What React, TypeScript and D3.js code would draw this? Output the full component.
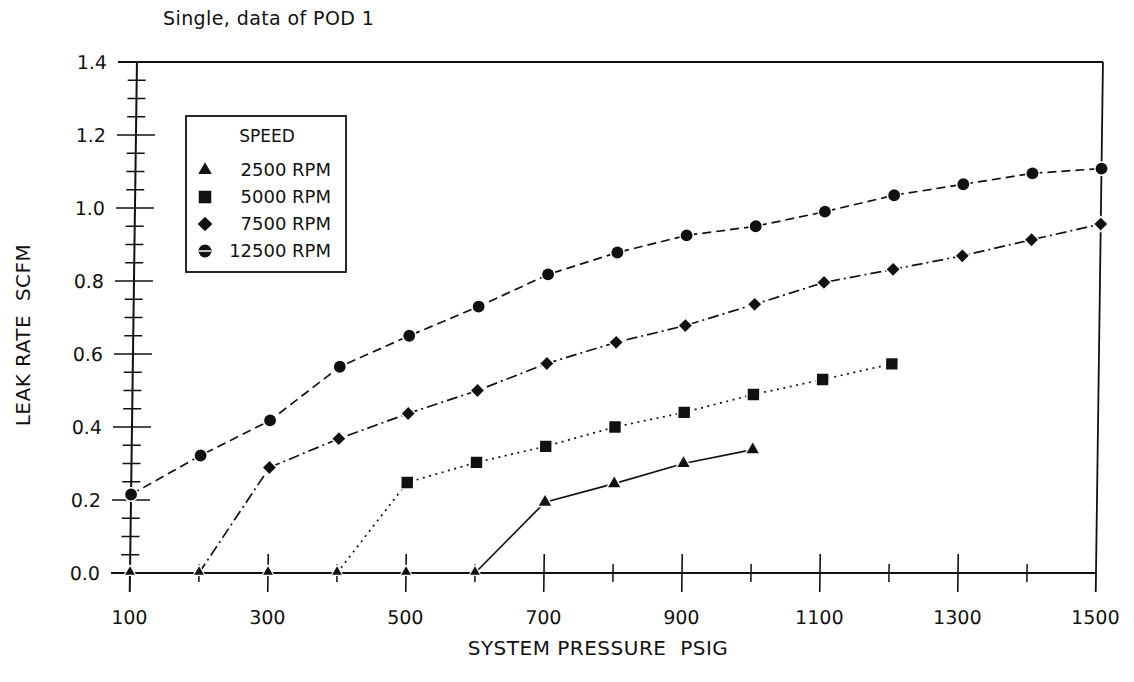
import { useEffect, useRef } from "react";
import * as d3 from "d3";

// pressures (psig) and leak rates (scfm)
const press2500 = [100, 200, 300, 400, 500, 600, 700, 800, 900, 1000];
const leak2500 = [0, 0, 0, 0, 0, 0, 0.194, 0.245, 0.3, 0.338];

const press5000 = [400, 500, 600, 700, 800, 900, 1000, 1100, 1200];
const leak5000 = [0, 0.248, 0.303, 0.347, 0.4, 0.44, 0.489, 0.53, 0.573];

const press7500 = [200, 300, 400, 500, 600, 700, 800, 900, 1000, 1100, 1200, 1300, 1400, 1500];
const leak7500 = [0, 0.289, 0.368, 0.437, 0.5, 0.574, 0.632, 0.678, 0.736, 0.796, 0.832, 0.869, 0.913, 0.956];

const press12500 = [100, 200, 300, 400, 500, 600, 700, 800, 900, 1000, 1100, 1200, 1300, 1400, 1500];
const leak12500 = [0.215, 0.322, 0.418, 0.565, 0.65, 0.73, 0.818, 0.878, 0.925, 0.95, 0.99, 1.035, 1.065, 1.095, 1.108];

const xTickLabels = [100, 300, 500, 700, 900, 1100, 1300, 1500];
const yTickLabels = [0, 0.2, 0.4, 0.6, 0.8, 1.0, 1.2, 1.4];
const legendLabels = ["2500 RPM", "5000 RPM", "7500 RPM", "12500 RPM"];

const INK = "#111";
const FONT = "'DejaVu Sans', sans-serif";

const App = () => {
  const svgRef = useRef<SVGSVGElement | null>(null);

  useEffect(() => {
    if (!svgRef.current) return;
    const svg = d3.select(svgRef.current);
    svg.selectAll("*").remove();

    const x = d3.scaleLinear().domain([100, 1500]).range([130, 1096]);
    const y = d3.scaleLinear().domain([0, 1.4]).range([573, 62]);

    // the scan leans a little to the right at the top
    const g = svg
      .append("g")
      .attr("transform", `translate(0,${y(0)}) skewX(-0.78) translate(0,${-y(0)})`);

    const series = [
      { p: press2500, v: leak2500, shape: "tri", dash: null },
      { p: press5000, v: leak5000, shape: "sq", dash: "2,4.5" },
      { p: press7500, v: leak7500, shape: "dia", dash: "11,4,2,4" },
      { p: press12500, v: leak12500, shape: "circ", dash: "9,5" },
    ];

    const symbolPath = (shape: string) => {
      if (shape === "tri") return d3.symbol(d3.symbolTriangle, 66)();
      if (shape === "sq") return d3.symbol(d3.symbolSquare, 130)();
      if (shape === "dia") return d3.symbol(d3.symbolSquare, 82)();
      return d3.symbol(d3.symbolCircle, 110)();
    };

    // frame
    g.append("line")
      .attr("x1", x(100) - 19).attr("x2", x(1500))
      .attr("y1", y(1.4)).attr("y2", y(1.4))
      .attr("stroke", INK).attr("stroke-width", 1.8);
    g.append("line")
      .attr("x1", x(1500)).attr("x2", x(1500))
      .attr("y1", y(1.4)).attr("y2", y(0) + 19)
      .attr("stroke", INK).attr("stroke-width", 1.8);
    g.append("line")
      .attr("x1", x(100) - 19).attr("x2", x(1500))
      .attr("y1", y(0)).attr("y2", y(0))
      .attr("stroke", INK).attr("stroke-width", 1.8);
    g.append("line")
      .attr("x1", x(100)).attr("x2", x(100))
      .attr("y1", y(1.4)).attr("y2", y(0) + 19)
      .attr("stroke", INK).attr("stroke-width", 2);

    // y ticks: minor every 0.05, major every 0.2
    const yMinor = d3.range(1, 28).map((i) => i * 0.05).filter((v) => Math.round(v * 100) % 20 !== 0);
    g.append("g")
      .selectAll("line")
      .data(yMinor)
      .join("line")
      .attr("x1", x(100) - 9).attr("x2", x(100) + 9)
      .attr("y1", (d) => y(d)).attr("y2", (d) => y(d))
      .attr("stroke", INK).attr("stroke-width", 1.5);
    g.append("g")
      .selectAll("line")
      .data(yTickLabels.slice(1, -1))
      .join("line")
      .attr("x1", x(100) - 19).attr("x2", x(100) + 19)
      .attr("y1", (d) => y(d)).attr("y2", (d) => y(d))
      .attr("stroke", INK).attr("stroke-width", 1.6);

    // x ticks
    const xMinor = d3.range(200, 1500, 200);
    g.append("g")
      .selectAll("line")
      .data(xMinor)
      .join("line")
      .attr("x1", (d) => x(d)).attr("x2", (d) => x(d))
      .attr("y1", y(0) - 9).attr("y2", y(0) + 9)
      .attr("stroke", INK).attr("stroke-width", 1.5);
    g.append("g")
      .selectAll("line")
      .data(xTickLabels.slice(1, -1))
      .join("line")
      .attr("x1", (d) => x(d)).attr("x2", (d) => x(d))
      .attr("y1", y(0) - 19).attr("y2", y(0) + 19)
      .attr("stroke", INK).attr("stroke-width", 1.6);

    // tick labels
    g.append("g")
      .selectAll("text")
      .data(yTickLabels)
      .join("text")
      .attr("x", x(100) - 30)
      .attr("y", (d) => y(d))
      .attr("dy", "0.36em")
      .attr("text-anchor", "end")
      .attr("font-family", FONT)
      .attr("font-size", 19)
      .attr("fill", INK)
      .text((d) => d3.format(".1f")(d));
    g.append("g")
      .selectAll("text")
      .data(xTickLabels)
      .join("text")
      .attr("x", (d) => x(d))
      .attr("y", 624)
      .attr("text-anchor", "middle")
      .attr("font-family", FONT)
      .attr("font-size", 19)
      .attr("fill", INK)
      .text((d) => d);

    // series lines
    series.forEach((s) => {
      const pts = s.p.map((p, i) => [x(p), y(s.v[i])] as [number, number]);
      g.append("path")
        .attr("d", d3.line()(pts))
        .attr("fill", "none")
        .attr("stroke", INK)
        .attr("stroke-width", 1.7)
        .attr("stroke-dasharray", s.dash);
    });

    // markers (white halo cuts the line near each point, like the plotter)
    series.forEach((s) => {
      const pts = s.p
        .map((p, i) => ({ p, v: s.v[i] }))
        .filter((d) => s.shape === "tri" || d.v > 0);
      g.append("g")
        .selectAll("path")
        .data(pts)
        .join("path")
        .attr("d", symbolPath(s.shape))
        .attr("transform", (d) =>
          `translate(${x(d.p)},${y(d.v) - (s.shape === "tri" && d.v === 0 ? 1 : 0)})` +
          (s.shape === "dia" ? " rotate(45)" : "") +
          (s.shape === "tri" && d.v === 0 ? " scale(0.8)" : "")
        )
        .attr("fill", INK)
        .attr("stroke", "white")
        .attr("stroke-width", 3)
        .attr("paint-order", "stroke");
    });

    // legend
    const lg = svg.append("g");
    lg.append("rect")
      .attr("x", 186).attr("y", 116)
      .attr("width", 160).attr("height", 156)
      .attr("fill", "white")
      .attr("stroke", INK)
      .attr("stroke-width", 1.8);
    lg.append("text")
      .attr("x", 267).attr("y", 136)
      .attr("dy", "0.36em")
      .attr("text-anchor", "middle")
      .attr("font-family", FONT)
      .attr("font-size", 17)
      .attr("fill", INK)
      .text("SPEED");
    const rows = lg
      .selectAll("g.row")
      .data(series.map((s, i) => ({ s, label: legendLabels[i] })))
      .join("g")
      .attr("class", "row")
      .attr("transform", (_, i) => `translate(0,${170 + i * 27})`);
    rows
      .append("path")
      .attr("d", (d) => symbolPath(d.s.shape))
      .attr("transform", (d) => `translate(205,0)` + (d.s.shape === "dia" ? " rotate(45) scale(1.15)" : " scale(1.1)"))
      .attr("fill", INK);
    rows
      .filter((d) => d.s.shape === "circ")
      .append("line")
      .attr("x1", 199).attr("x2", 211)
      .attr("y1", 0).attr("y2", 0)
      .attr("stroke", "white").attr("stroke-width", 1.5);
    rows
      .append("text")
      .attr("x", 331)
      .attr("dy", "0.36em")
      .attr("text-anchor", "end")
      .attr("font-family", FONT)
      .attr("font-size", 18)
      .attr("fill", INK)
      .text((d) => d.label);

    // titles
    svg.append("text")
      .attr("x", 163).attr("y", 25)
      .attr("font-family", FONT)
      .attr("font-size", 19)
      .attr("letter-spacing", 0.4)
      .attr("fill", INK)
      .text("Single, data of POD 1");
    svg.append("text")
      .attr("x", 598).attr("y", 648)
      .attr("dy", "0.36em")
      .attr("text-anchor", "middle")
      .attr("font-family", FONT)
      .attr("font-size", 20)
      .attr("letter-spacing", 0.5)
      .attr("fill", INK)
      .style("white-space", "pre")
      .text("SYSTEM PRESSURE  PSIG");
    svg.append("text")
      .attr("transform", "translate(23,335) rotate(-90)")
      .attr("dy", "0.36em")
      .attr("text-anchor", "middle")
      .attr("font-family", FONT)
      .attr("font-size", 20)
      .attr("letter-spacing", 0.5)
      .attr("fill", INK)
      .style("white-space", "pre")
      .text("LEAK RATE  SCFM");
  }, []);

  return (
    <svg
      ref={svgRef}
      width={1134}
      height={682}
      style={{ position: "absolute", left: 0, top: 0, background: "white" }}
    />
  );
};

export default App;
